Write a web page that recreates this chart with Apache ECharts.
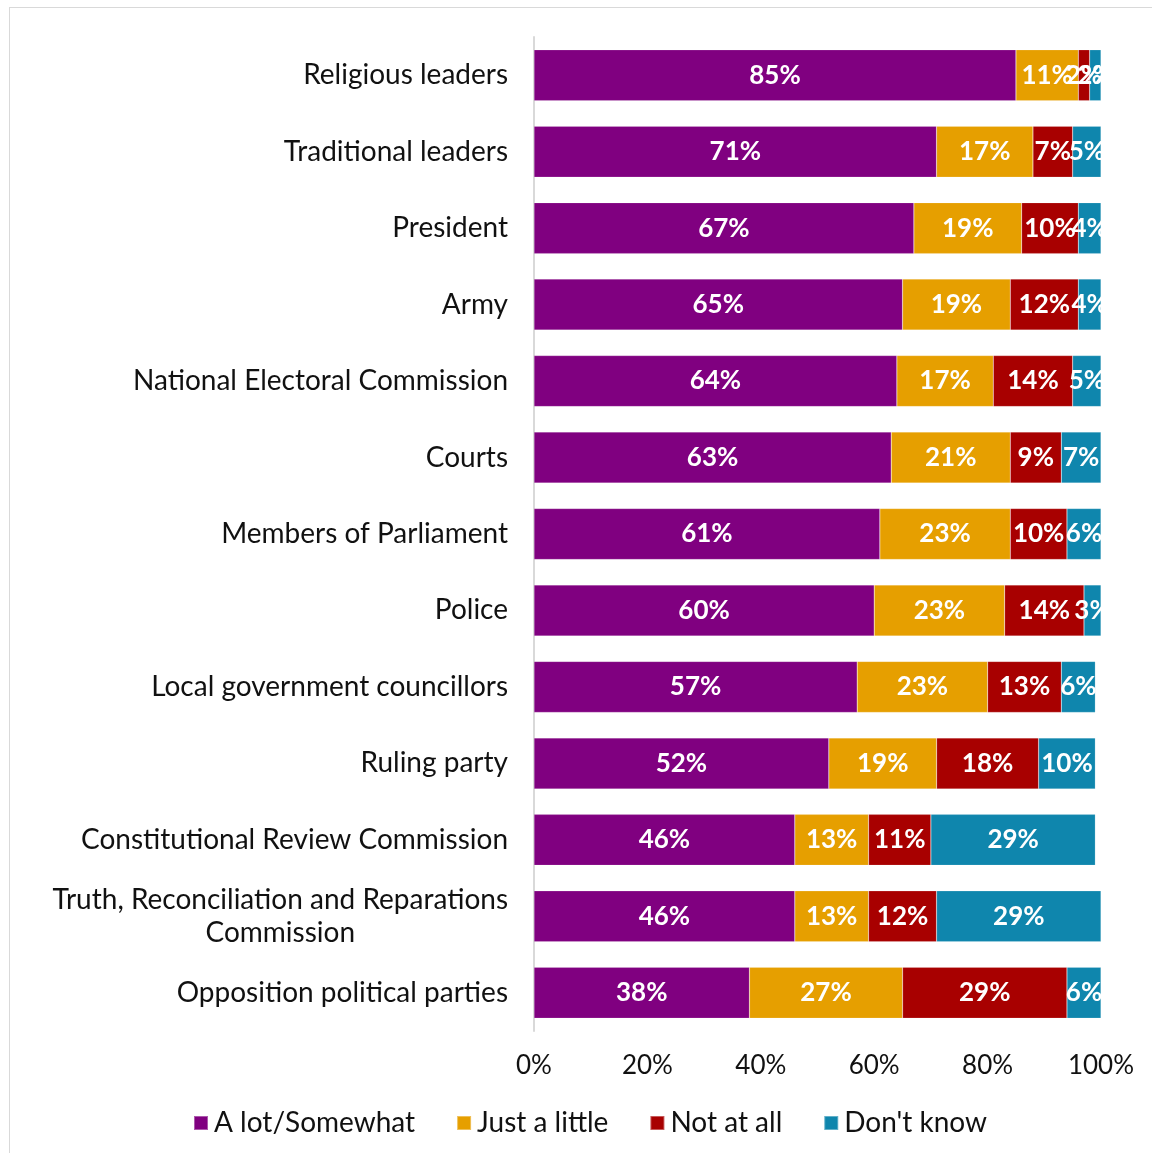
<!DOCTYPE html>
<html>
<head>
<meta charset="utf-8">
<style>
  html, body { margin: 0; padding: 0; background: #fff; }
  #frame { position: absolute; left: 9px; top: 7px; width: 1150px; height: 1150px; border: 1px solid #d9d9d9; box-sizing: border-box; }
  #chart { position: absolute; left: 0; top: 0; width: 1152px; height: 1153px; }
</style>
<script src="https://cdn.jsdelivr.net/npm/echarts@6/dist/echarts.min.js"></script>
</head>
<body>
<div id="frame"></div>
<div id="chart"></div>
<script>
// Trust in institutions, listed top to bottom
const categories = [
  'Religious leaders',
  'Traditional leaders',
  'President',
  'Army',
  'National Electoral Commission',
  'Courts',
  'Members of Parliament',
  'Police',
  'Local government councillors',
  'Ruling party',
  'Constitutional Review Commission',
  'Truth, Reconciliation and Reparations Commission',
  'Opposition political parties'
];
const seriesNames = ['A lot/Somewhat', 'Just a little', 'Not at all', "Don't know"];
const aLotSomewhat = [85, 71, 67, 65, 64, 63, 61, 60, 57, 52, 46, 46, 38];
const justALittle  = [11, 17, 19, 19, 17, 21, 23, 23, 23, 19, 13, 13, 27];
const notAtAll     = [2, 7, 10, 12, 14, 9, 10, 14, 13, 18, 11, 12, 29];
const dontKnow     = [2, 5, 4, 4, 5, 7, 6, 3, 6, 10, 29, 29, 6];
const xTicks = [0, 20, 40, 60, 80, 100];

const colors = ['#800080', '#E69F00', '#A80000', '#0F86AD'];
const FONT = 'Lato';

const values = [aLotSomewhat, justALittle, notAtAll, dontKnow];
const series = seriesNames.map((name, i) => ({
  name,
  type: 'bar',
  stack: 'total',
  barWidth: 51,
  data: values[i],
  itemStyle: { color: colors[i], borderColor: 'rgba(255,255,255,0.35)', borderWidth: 0.5 },
  label: {
    show: true,
    position: 'inside',
    formatter: p => p.value + '%',
    color: '#fff',
    fontFamily: FONT,
    fontWeight: 'bold',
    fontSize: 26
  },
  emphasis: { disabled: true }
}));

const chart = echarts.init(document.getElementById('chart'));
chart.setOption({
  animation: false,
  color: colors,
  grid: { left: 534, right: 51, top: 37, bottom: 122, containLabel: false },
  xAxis: {
    type: 'value',
    min: xTicks[0],
    max: xTicks[xTicks.length - 1],
    interval: 20,
    splitLine: { show: false },
    axisLine: { show: false },
    axisTick: { show: false },
    axisLabel: {
      formatter: v => v + '%',
      color: '#111',
      fontFamily: FONT,
      fontSize: 26,
      margin: 22
    }
  },
  yAxis: {
    type: 'category',
    inverse: true,
    data: categories,
    axisLine: { show: true, lineStyle: { color: '#d9d9d9', width: 2 } },
    axisTick: { show: false },
    axisLabel: {
      color: '#111',
      fontFamily: FONT,
      fontSize: 28,
      margin: 26,
      formatter: v => {
        if (v.indexOf('Truth') === 0) {
          return '{a|Truth, Reconciliation and Reparations}\n{b|Commission}';
        }
        return v;
      },
      rich: {
        a: { fontFamily: FONT, fontSize: 28, color: '#111', lineHeight: 33 },
        b: { fontFamily: FONT, fontSize: 28, color: '#111', lineHeight: 33, align: 'center' }
      }
    }
  },
  legend: {
    left: 188,
    top: 1104,
    itemWidth: 14,
    itemHeight: 14,
    itemGap: 41,
    icon: 'rect',
    textStyle: { color: '#111', fontFamily: FONT, fontSize: 28, padding: [0, 0, 0, 1] },
    data: seriesNames
  },
  series
});
</script>
</body>
</html>
